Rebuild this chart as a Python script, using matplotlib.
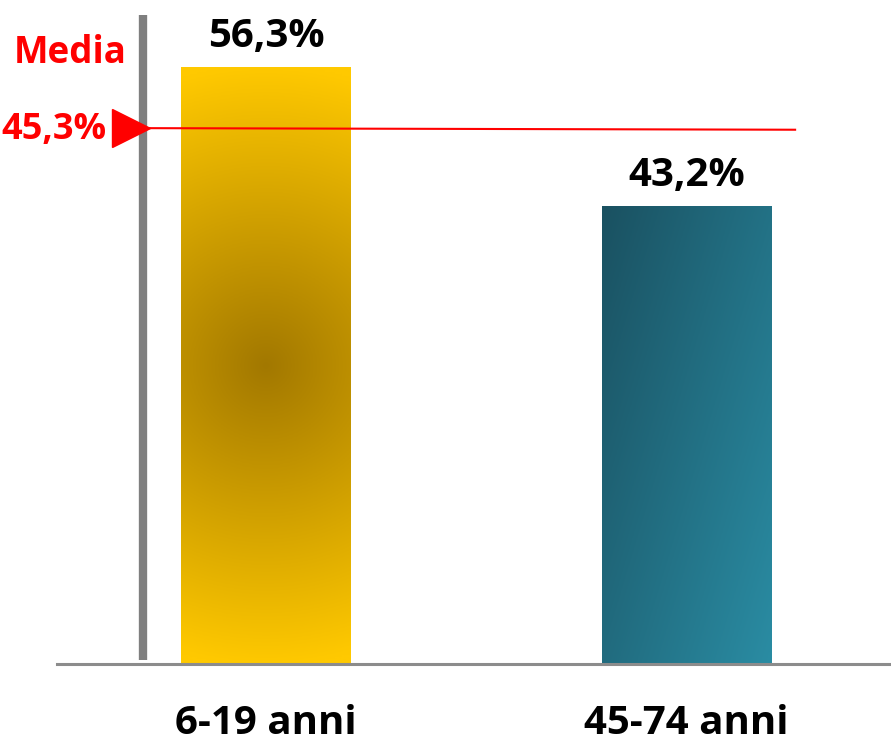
import numpy as np
import matplotlib.pyplot as plt
from matplotlib.colors import to_rgb

categories = ["6-19 anni", "45-74 anni"]
values = [56.3, 43.2]
value_labels = ["56,3%", "43,2%"]
media_label = "45,3%"
media_pos = 50.6  # where the red line sits in the picture

plt.rcParams['font.family'] = ['Open Sans', 'DejaVu Sans']

fig = plt.figure(figsize=(8.91, 7.44), dpi=100)
ax = fig.add_axes([0, 80 / 744, 1, 664 / 744])
ax.set_xlim(-0.6326, 1.486)
ax.set_ylim(0, 62.7)
ax.axis("off")

x = np.arange(len(categories))
width = 0.404


def radial_fill(x0, x1, h, c_in, c_out):
    # distances measured in screen pixels
    ny, nx = 300, 90
    gx, gy = np.meshgrid(np.linspace(x0, x1, nx), np.linspace(0, h, ny))
    dx = (gx - (x0 + x1) / 2) * 420.5
    dy = (gy - h * 0.5) * 10.59
    t = np.clip(np.hypot(dx, dy) / 300, 0, 1)[..., None]
    return np.array(c_in) * (1 - t) + np.array(c_out) * t


def linear_fill(c_a, c_b):
    ny, nx = 200, 90
    gx, gy = np.meshgrid(np.linspace(0, 1, nx), np.linspace(0, 1, ny))
    t = np.clip(gx * 0.55 + (1 - gy) * 0.45, 0, 1)[..., None]
    return np.array(c_a) * (1 - t) + np.array(c_b) * t


bars = ax.bar(x, values, width=width, color="none", zorder=2)
fills = [
    radial_fill(x[0] - width / 2, x[0] + width / 2, values[0], to_rgb("#a27800"), to_rgb("#ffc900")),
    linear_fill(to_rgb("#1a5161"), to_rgb("#2a8ca3")),
]
for b, img in zip(bars, fills):
    x0, w, h = b.get_x(), b.get_width(), b.get_height()
    ax.imshow(img, extent=[x0, x0 + w, 0, h], origin="lower", aspect="auto", zorder=2)

for xi, v, lab in zip(x, values, value_labels):
    ax.text(xi, v + 1.1, lab, ha="center", va="bottom", fontsize=29, fontweight="bold", color="black")

# baseline and grey vertical axis
ax.plot([-0.497, 1.486], [0, 0], color="#8c8c8c", lw=2.2, zorder=3, clip_on=False)
ax.plot([-0.2925, -0.2925], [0.4, 61.3], color="#7f7f7f", lw=6, zorder=3, solid_capstyle="butt")

# media line
ax.plot([-0.2925, 1.258], [media_pos, media_pos - 0.15], color="#ff0000", lw=1.5, zorder=4)
ax.plot([-0.322], [media_pos], marker=">", markersize=28, color="#ff0000", zorder=4)
ax.text(-0.4665, 57.7, "Media", ha="center", va="center", fontsize=26.5, fontweight="bold", color="#ff0000")
ax.text(-0.5043, media_pos - 0.2, media_label, ha="center", va="center", fontsize=26, fontweight="bold", color="#ff0000")

for xi, lab in zip(x, categories):
    ax.text(xi, -5.6, lab, ha="center", va="center", fontsize=29, fontweight="bold", color="black", clip_on=False)

fig.savefig("out.png", dpi=100)
